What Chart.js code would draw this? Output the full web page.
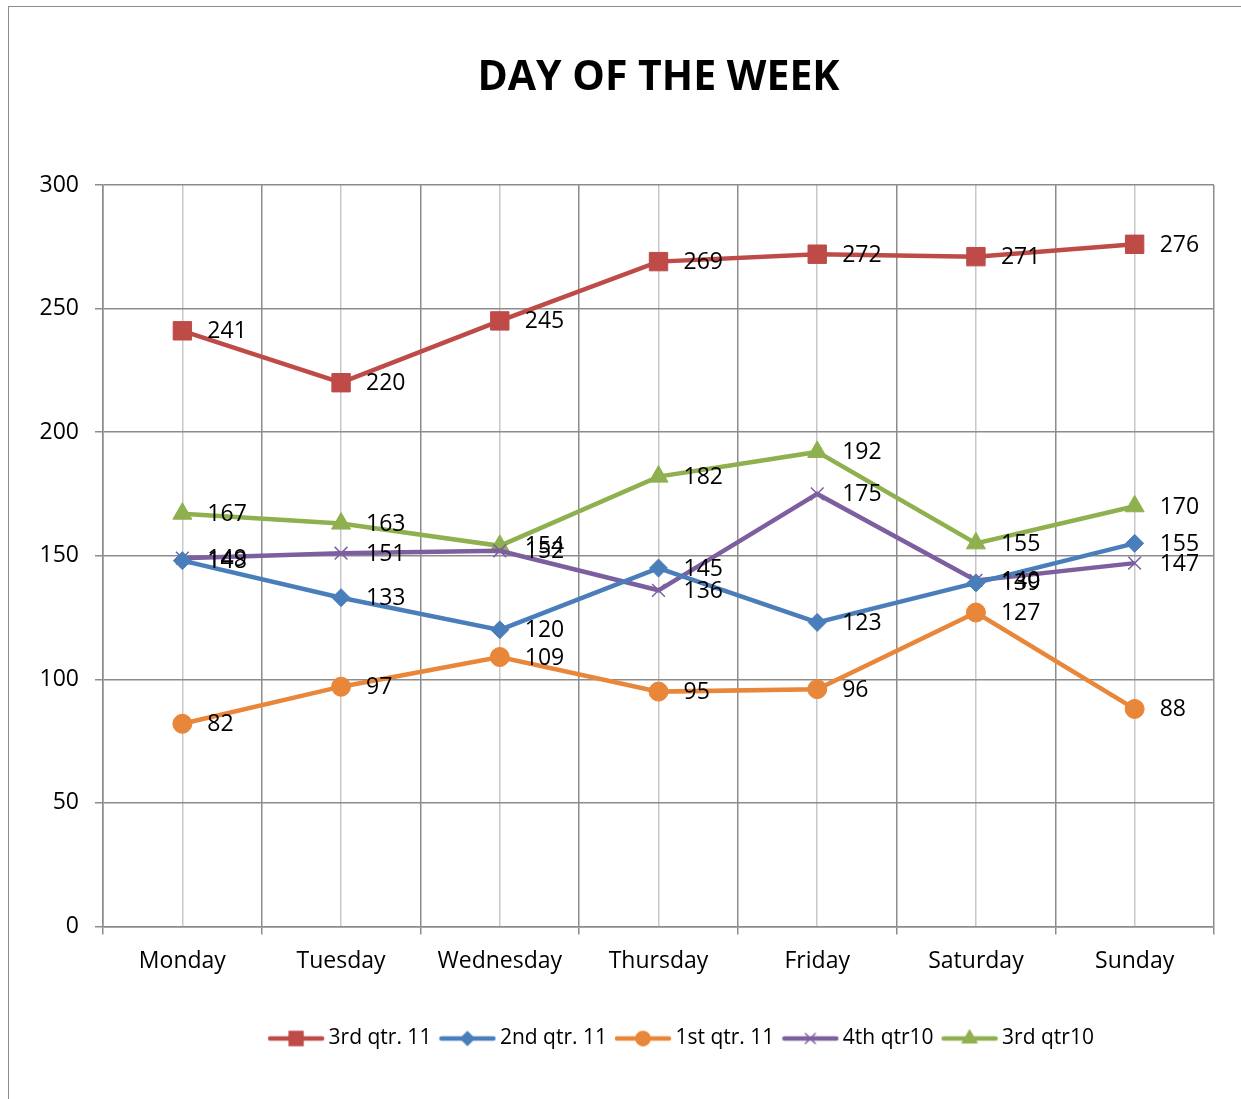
<!DOCTYPE html>
<html>
<head>
<meta charset="utf-8">
<script src="https://cdn.jsdelivr.net/npm/chart.js@4/dist/chart.umd.min.js"></script>
<style>
  html, body { margin: 0; padding: 0; background: #fff; }
  #frame { position: absolute; left: 8px; top: 6px; width: 1240px; height: 1100px; border: 1px solid #8c8c8c; box-sizing: border-box; }
  #wrap { position: absolute; left: 0; top: 0; width: 1241px; height: 1099px; }
</style>
</head>
<body>
<div id="frame"></div>
<div id="wrap"><canvas id="chart" width="1241" height="1099"></canvas></div>
<script>
const days = ["Monday", "Tuesday", "Wednesday", "Thursday", "Friday", "Saturday", "Sunday"]
const q3_11 = [241, 220, 245, 269, 272, 271, 276]
const q2_11 = [148, 133, 120, 145, 123, 139, 155]
const q1_11 = [82, 97, 109, 95, 96, 127, 88]
const q4_10 = [149, 151, 152, 136, 175, 140, 147]
const q3_10 = [167, 163, 154, 182, 192, 155, 170]
const yTicks = [0, 50, 100, 150, 200, 250, 300]
const chartTitle = "DAY OF THE WEEK"

const FONT = "'Open Sans', 'Liberation Sans', sans-serif"

// little legend swatch: line with the marker on it
function swatch(color, style, r) {
    const c = document.createElement("canvas")
    c.width = 58
    c.height = 20
    const ctx = c.getContext("2d")
    ctx.strokeStyle = color
    ctx.lineWidth = 4.5
    ctx.lineCap = "round"
    ctx.beginPath()
    ctx.moveTo(3, 10)
    ctx.lineTo(55, 10)
    ctx.stroke()
    ctx.fillStyle = color
    ctx.lineWidth = 1.5
    Chart.helpers.drawPoint(ctx, { pointStyle: style, radius: r, borderWidth: 1.5, rotation: 0 }, 29, 10)
    if (style !== "crossRot") ctx.fill()
    return c
}

function series(label, data, color, style, r) {
    return {
        label,
        data,
        borderColor: color,
        backgroundColor: color,
        borderWidth: 4.5,
        pointStyle: style,
        pointRadius: r,
        pointHoverRadius: r,
        pointBorderWidth: style === "crossRot" ? 1.5 : 1,
        pointBorderColor: color,
        pointBackgroundColor: color,
        tension: 0,
        legendImg: swatch(color, style, style === "crossRot" ? 7 : r * 0.75),
    }
}

// value next to every point
const valueLabels = {
    id: "valueLabels",
    afterDatasetsDraw(chart) {
        const ctx = chart.ctx
        ctx.save()
        ctx.font = "23px " + FONT
        ctx.fillStyle = "#000"
        ctx.textAlign = "left"
        ctx.textBaseline = "middle"
        chart.data.datasets.forEach((ds, i) => {
            chart.getDatasetMeta(i).data.forEach((pt, j) => {
                ctx.fillText(String(ds.data[j]), pt.x + 25, pt.y + 1)
            })
        })
        ctx.restore()
    }
}

// title centred over the plot area, legend nudged right, like the original
const plotTitle = {
    id: "plotTitle",
    afterLayout(chart) {
        if (chart.legend) chart.legend.left += 146
    },
    afterDraw(chart) {
        const ctx = chart.ctx
        const a = chart.chartArea
        ctx.save()
        ctx.font = "bold 41px " + FONT
        ctx.fillStyle = "#000"
        ctx.textAlign = "center"
        ctx.textBaseline = "middle"
        ctx.fillText(chartTitle, (a.left + a.right) / 2, 78)
        ctx.restore()
    }
}

new Chart(document.getElementById("chart"), {
    type: "line",
    data: {
        labels: days,
        datasets: [
            series("3rd qtr. 11", q3_11, "#BE4B48", "rect", 13),
            series("2nd qtr. 11", q2_11, "#4A7EBB", "rectRot", 9),
            series("1st qtr. 11", q1_11, "#E8863A", "circle", 9.5),
            series("4th qtr10", q4_10, "#7D5FA0", "crossRot", 9),
            series("3rd qtr10", q3_10, "#8FB04E", "triangle", 11),
        ]
    },
    options: {
        responsive: false,
        animation: false,
        layout: { padding: { left: 8, right: 27, top: 185, bottom: 40 } },
        plugins: {
            title: { display: false },
            legend: {
                display: true,
                position: "bottom",
                labels: {
                    usePointStyle: true,
                    pointStyleWidth: 44,
                    color: "#000",
                    font: { family: FONT, size: 21 },
                    padding: 14,
                    generateLabels(chart) {
                        return chart.data.datasets.map((ds, i) => ({
                            text: ds.label,
                            pointStyle: ds.legendImg,
                            fillStyle: ds.borderColor,
                            strokeStyle: ds.borderColor,
                            lineWidth: 0,
                            hidden: false,
                            datasetIndex: i,
                            fontColor: "#000"
                        }))
                    }
                }
            },
            tooltip: { enabled: false }
        },
        scales: {
            x: {
                offset: true,
                grid: { offset: true, color: "#8c8c8c", lineWidth: 1.5, tickLength: 8 },
                border: { color: "#8c8c8c", width: 1.5 },
                ticks: { color: "#000", font: { family: FONT, size: 23 }, padding: 13 },
                afterFit(s) { s.height += 26 }
            },
            xc: {
                type: "category",
                labels: days,
                position: "bottom",
                offset: true,
                display: true,
                grid: { offset: false, color: "#c8c8c8", lineWidth: 1.5, drawTicks: false },
                border: { display: false },
                ticks: { display: false },
                afterFit(s) { s.height = 0 }
            },
            y: {
                min: 0,
                max: 300,
                afterBuildTicks(s) { s.ticks = yTicks.map(v => ({ value: v })) },
                grid: { color: "#8c8c8c", lineWidth: 1.5, tickLength: 8 },
                border: { color: "#8c8c8c", width: 1.5 },
                ticks: { color: "#000", font: { family: FONT, size: 23 }, padding: 16 },
                afterFit(s) { s.width = 95 }
            }
        }
    },
    plugins: [valueLabels, plotTitle]
})
</script>
</body>
</html>
